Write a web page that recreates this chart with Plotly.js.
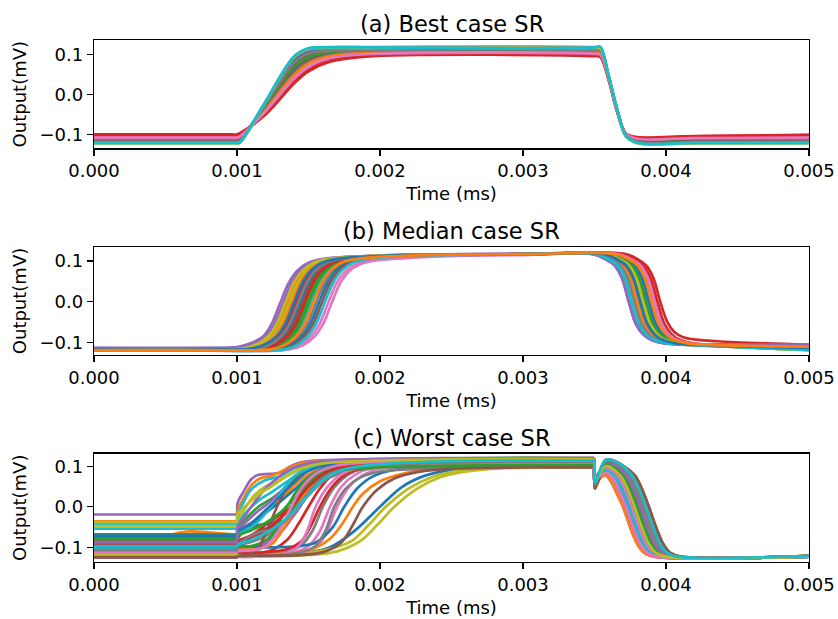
<!DOCTYPE html>
<html><head><meta charset="utf-8">
<script src="https://cdn.plot.ly/plotly-3.0.1.min.js"></script>
<style>html,body{margin:0;padding:0;background:#fff}#chart{width:838px;height:619px}</style>
</head><body><div id="chart"></div>
<script>
// Matplotlib tab10 colour cycle
const palette = ['#1f77b4','#ff7f0e','#2ca02c','#d62728','#9467bd','#8c564b','#e377c2','#7f7f7f','#bcbd22','#17becf'];
const TIME_UNIT = 1e-4; // time values below are stored in units of 0.0001

const panelTitles = ['(a) Best case SR', '(b) Median case SR', '(c) Worst case SR'];
const xTicks = [0, 0.001, 0.002, 0.003, 0.004, 0.005];
const yTicks = [-0.1, 0, 0.1];

// ---- (a) Best case: shared time grid, one row of outputs per run ----
const timeA = [0, 9.6, 10, 10.2, 12, 14, 15, 16.5, 19, 35, 35.4, 36, 36.6, 37.2, 38, 42, 50];
const seriesA = [
 [-0.115,-0.115,-0.115,-0.113,-0.030,0.065,0.090,0.105,0.110,0.110,0.109,0.040,-0.042,-0.100,-0.115,-0.115,-0.115],
 [-0.118,-0.118,-0.118,-0.117,-0.020,0.090,0.110,0.116,0.117,0.117,0.116,0.044,-0.040,-0.103,-0.118,-0.118,-0.118],
 [-0.117,-0.117,-0.117,-0.116,-0.022,0.085,0.106,0.113,0.114,0.114,0.113,0.043,-0.041,-0.102,-0.117,-0.117,-0.117],
 [-0.100,-0.100,-0.100,-0.097,-0.050,0.028,0.058,0.082,0.095,0.096,0.094,0.035,-0.045,-0.098,-0.107,-0.104,-0.101],
 [-0.112,-0.112,-0.112,-0.110,-0.026,0.075,0.098,0.109,0.112,0.112,0.111,0.042,-0.041,-0.100,-0.113,-0.113,-0.113],
 [-0.113,-0.113,-0.113,-0.111,-0.032,0.060,0.086,0.102,0.108,0.108,0.107,0.040,-0.042,-0.100,-0.114,-0.114,-0.114],
 [-0.105,-0.105,-0.105,-0.102,-0.045,0.035,0.065,0.088,0.099,0.100,0.098,0.037,-0.046,-0.099,-0.110,-0.107,-0.105],
 [-0.114,-0.114,-0.114,-0.112,-0.036,0.052,0.080,0.098,0.105,0.105,0.104,0.039,-0.043,-0.100,-0.115,-0.115,-0.115],
 [-0.121,-0.121,-0.121,-0.120,-0.019,0.093,0.113,0.116,0.116,0.116,0.115,0.044,-0.040,-0.104,-0.121,-0.121,-0.121],
 [-0.122,-0.122,-0.122,-0.121,-0.018,0.095,0.115,0.119,0.119,0.119,0.118,0.045,-0.040,-0.105,-0.122,-0.122,-0.122],
 [-0.119,-0.119,-0.119,-0.118,-0.021,0.088,0.108,0.114,0.115,0.115,0.114,0.043,-0.040,-0.103,-0.119,-0.119,-0.119],
 [-0.110,-0.110,-0.110,-0.108,-0.038,0.048,0.077,0.096,0.104,0.104,0.103,0.039,-0.043,-0.100,-0.113,-0.112,-0.111],
 [-0.116,-0.116,-0.116,-0.114,-0.028,0.070,0.094,0.107,0.111,0.111,0.110,0.041,-0.041,-0.101,-0.116,-0.116,-0.116],
 [-0.102,-0.102,-0.102,-0.099,-0.047,0.031,0.061,0.085,0.097,0.098,0.096,0.036,-0.045,-0.098,-0.108,-0.105,-0.102],
 [-0.120,-0.120,-0.120,-0.119,-0.019,0.092,0.112,0.117,0.118,0.118,0.117,0.044,-0.040,-0.104,-0.120,-0.120,-0.120],
 [-0.117,-0.117,-0.117,-0.115,-0.025,0.078,0.101,0.111,0.113,0.113,0.112,0.042,-0.041,-0.102,-0.117,-0.117,-0.117],
 [-0.108,-0.108,-0.108,-0.105,-0.042,0.040,0.070,0.091,0.101,0.102,0.100,0.038,-0.044,-0.099,-0.111,-0.109,-0.108],
 [-0.119,-0.119,-0.119,-0.117,-0.024,0.080,0.103,0.110,0.112,0.112,0.111,0.042,-0.041,-0.102,-0.119,-0.119,-0.119],
 [-0.122,-0.122,-0.122,-0.121,-0.018,0.094,0.114,0.117,0.117,0.117,0.116,0.045,-0.040,-0.104,-0.122,-0.122,-0.122],
 [-0.121,-0.121,-0.121,-0.120,-0.017,0.096,0.116,0.118,0.118,0.118,0.120,0.046,-0.039,-0.104,-0.121,-0.121,-0.121]
];

// ---- (b) Median case: each run = its own start/rise knots + one of the shared fall knot sets ----
const risesB = [
 [[0,-0.118],[8,-0.118],[11.4,-0.116],[12.4,-0.106],[13.2,-0.086],[13.8,-0.056],[14.4,-0.005],[15.0,0.045],[15.6,0.076],[16.4,0.096],[17.4,0.105],[19.4,0.111],[22.4,0.115],[30,0.117]],
 [[0,-0.117],[8,-0.117],[10.5,-0.115],[11.5,-0.105],[12.3,-0.086],[12.9,-0.056],[13.5,-0.005],[14.1,0.045],[14.7,0.076],[15.5,0.096],[16.5,0.105],[18.5,0.111],[21.5,0.115],[30,0.117]],
 [[0,-0.118],[8,-0.118],[11.85,-0.116],[12.85,-0.106],[13.65,-0.086],[14.25,-0.056],[14.85,-0.005],[15.45,0.045],[16.05,0.076],[16.85,0.096],[17.85,0.105],[19.85,0.111],[22.85,0.115],[30,0.117]],
 [[0,-0.116],[8,-0.116],[11.1,-0.114],[12.1,-0.104],[12.9,-0.086],[13.5,-0.056],[14.1,-0.005],[14.7,0.045],[15.3,0.076],[16.1,0.096],[17.1,0.105],[19.1,0.111],[22.1,0.115],[30,0.117]],
 [[0,-0.113],[8,-0.113],[10.0,-0.111],[11.0,-0.101],[11.8,-0.086],[12.4,-0.056],[13.0,-0.005],[13.6,0.045],[14.2,0.076],[15.0,0.096],[16.0,0.105],[18.0,0.111],[21.0,0.115],[30,0.118]],
 [[0,-0.118],[8,-0.118],[11.55,-0.116],[12.55,-0.106],[13.35,-0.086],[13.95,-0.056],[14.55,-0.005],[15.15,0.045],[15.75,0.076],[16.55,0.096],[17.55,0.105],[19.55,0.111],[22.55,0.115],[30,0.117]],
 [[0,-0.119],[8,-0.119],[13.6,-0.117],[14.6,-0.107],[15.4,-0.086],[16.0,-0.056],[16.6,-0.005],[17.2,0.045],[17.8,0.074],[18.6,0.092],[19.6,0.101],[21.6,0.107],[24.6,0.112],[30,0.115]],
 [[0,-0.118],[8,-0.118],[12.5,-0.116],[13.5,-0.106],[14.3,-0.086],[14.9,-0.056],[15.5,-0.005],[16.1,0.045],[16.7,0.076],[17.5,0.096],[18.5,0.105],[20.5,0.111],[23.5,0.115],[30,0.117]],
 [[0,-0.117],[8,-0.117],[10.65,-0.115],[11.65,-0.105],[12.45,-0.086],[13.05,-0.056],[13.65,-0.005],[14.25,0.045],[14.85,0.076],[15.65,0.096],[16.65,0.105],[18.65,0.111],[21.65,0.115],[30,0.117]],
 [[0,-0.120],[8,-0.120],[12.15,-0.118],[13.15,-0.108],[13.95,-0.086],[14.55,-0.056],[15.15,-0.005],[15.75,0.045],[16.35,0.076],[17.15,0.096],[18.15,0.105],[20.15,0.111],[23.15,0.115],[30,0.117]],
 [[0,-0.119],[8,-0.119],[12.7,-0.117],[13.7,-0.107],[14.5,-0.086],[15.1,-0.056],[15.7,-0.005],[16.3,0.045],[16.9,0.076],[17.7,0.096],[18.7,0.105],[20.7,0.111],[23.7,0.115],[30,0.117]],
 [[0,-0.118],[8,-0.118],[10.8,-0.116],[11.8,-0.106],[12.6,-0.086],[13.2,-0.056],[13.8,-0.005],[14.4,0.045],[15.0,0.076],[15.8,0.096],[16.8,0.105],[18.8,0.111],[21.8,0.115],[30,0.117]],
 [[0,-0.118],[8,-0.118],[12.0,-0.116],[13.0,-0.106],[13.8,-0.086],[14.4,-0.056],[15.0,-0.005],[15.6,0.045],[16.2,0.076],[17.0,0.096],[18.0,0.105],[20.0,0.111],[23.0,0.115],[30,0.117]],
 [[0,-0.118],[8,-0.118],[11.7,-0.116],[12.7,-0.106],[13.5,-0.086],[14.1,-0.056],[14.7,-0.005],[15.3,0.045],[15.9,0.076],[16.7,0.096],[17.7,0.105],[19.7,0.111],[22.7,0.115],[30,0.117]],
 [[0,-0.114],[8,-0.114],[10.2,-0.112],[11.2,-0.102],[12.0,-0.086],[12.6,-0.056],[13.2,-0.005],[13.8,0.045],[14.4,0.076],[15.2,0.096],[16.2,0.105],[18.2,0.111],[21.2,0.115],[30,0.118]],
 [[0,-0.119],[8,-0.119],[12.9,-0.117],[13.9,-0.107],[14.7,-0.086],[15.3,-0.056],[15.9,-0.005],[16.5,0.045],[17.1,0.076],[17.9,0.096],[18.9,0.105],[20.9,0.111],[23.9,0.115],[30,0.117]],
 [[0,-0.120],[8,-0.120],[13.35,-0.118],[14.35,-0.108],[15.15,-0.086],[15.75,-0.056],[16.35,-0.005],[16.95,0.045],[17.55,0.074],[18.35,0.093],[19.35,0.102],[21.35,0.108],[24.35,0.113],[30,0.116]],
 [[0,-0.118],[8,-0.118],[11.25,-0.116],[12.25,-0.106],[13.05,-0.086],[13.65,-0.056],[14.25,-0.005],[14.85,0.045],[15.45,0.076],[16.25,0.096],[17.25,0.105],[19.25,0.111],[22.25,0.115],[30,0.117]],
 [[0,-0.117],[8,-0.117],[10.35,-0.115],[11.35,-0.105],[12.15,-0.086],[12.75,-0.056],[13.35,-0.005],[13.95,0.045],[14.55,0.076],[15.35,0.096],[16.35,0.105],[18.35,0.111],[21.35,0.115],[30,0.117]],
 [[0,-0.120],[8,-0.120],[13.1,-0.118],[14.1,-0.108],[14.9,-0.086],[15.5,-0.056],[16.1,-0.005],[16.7,0.045],[17.3,0.076],[18.1,0.096],[19.1,0.105],[21.1,0.111],[24.1,0.115],[30,0.117]],
 [[0,-0.117],[8,-0.117],[10.95,-0.115],[11.95,-0.105],[12.75,-0.086],[13.35,-0.056],[13.95,-0.005],[14.55,0.045],[15.15,0.076],[15.95,0.096],[16.95,0.105],[18.95,0.111],[21.95,0.115],[30,0.117]],
 [[0,-0.119],[8,-0.119],[12.3,-0.117],[13.3,-0.107],[14.1,-0.086],[14.7,-0.056],[15.3,-0.005],[15.9,0.045],[16.5,0.076],[17.3,0.096],[18.3,0.105],[20.3,0.111],[23.3,0.115],[30,0.117]]
];
const fallsB = [
 [[34.9,0.117],[35.8,0.104],[36.4,0.090],[36.9,0.060],[37.4,0.0],[37.9,-0.055],[38.4,-0.080],[39.0,-0.094],[39.9,-0.102],[41.4,-0.104],[50,-0.106]],
 [[35.1,0.117],[36.0,0.104],[36.6,0.090],[37.1,0.060],[37.6,0.0],[38.1,-0.055],[38.6,-0.080],[39.2,-0.094],[40.1,-0.102],[41.6,-0.106],[50,-0.118]],
 [[35.3,0.117],[36.2,0.104],[36.8,0.090],[37.3,0.060],[37.8,0.0],[38.3,-0.055],[38.8,-0.080],[39.4,-0.094],[40.3,-0.102],[41.8,-0.106],[50,-0.115]],
 [[35.5,0.117],[36.4,0.104],[37.0,0.090],[37.5,0.060],[38.0,0.0],[38.5,-0.055],[39.0,-0.080],[39.6,-0.094],[40.5,-0.102],[42.0,-0.106],[50,-0.117]],
 [[35.7,0.117],[36.6,0.104],[37.2,0.090],[37.7,0.060],[38.2,0.0],[38.7,-0.055],[39.2,-0.080],[39.8,-0.094],[40.7,-0.102],[42.2,-0.106],[50,-0.113]],
 [[35.9,0.117],[36.8,0.104],[37.4,0.090],[37.9,0.060],[38.4,0.0],[38.9,-0.055],[39.4,-0.080],[40.0,-0.094],[40.9,-0.102],[42.4,-0.106],[50,-0.119]],
 [[36.1,0.117],[37.0,0.104],[37.6,0.090],[38.1,0.060],[38.6,0.0],[39.1,-0.055],[39.6,-0.080],[40.2,-0.094],[41.1,-0.102],[42.6,-0.106],[50,-0.112]],
 [[36.3,0.117],[37.2,0.104],[37.8,0.090],[38.3,0.060],[38.8,0.0],[39.3,-0.055],[39.8,-0.080],[40.4,-0.094],[41.3,-0.102],[42.8,-0.106],[50,-0.116]],
 [[36.5,0.117],[37.4,0.104],[38.0,0.090],[38.5,0.060],[39.0,0.0],[39.5,-0.055],[40.0,-0.080],[40.6,-0.094],[41.5,-0.102],[43.0,-0.106],[50,-0.110]],
 [[36.7,0.117],[37.6,0.104],[38.2,0.090],[38.7,0.060],[39.2,0.0],[39.7,-0.055],[40.2,-0.080],[40.8,-0.094],[41.7,-0.102],[43.2,-0.106],[50,-0.114]],
 [[36.9,0.117],[37.8,0.104],[38.4,0.090],[38.9,0.060],[39.4,0.0],[39.9,-0.055],[40.4,-0.080],[41.0,-0.094],[41.9,-0.102],[43.4,-0.106],[50,-0.111]],
 [[37.1,0.118],[38.0,0.105],[38.6,0.090],[39.1,0.060],[39.6,0.0],[40.1,-0.050],[40.6,-0.075],[41.2,-0.087],[42.1,-0.093],[43.6,-0.097],[50,-0.106]]
];
const fallOfB = [3,1,5,11,0,6,8,7,2,9,7,3,6,10,0,4,9,2,5,1,4,8];

// ---- (c) Worst case: each run = its own start/rise knots + one of the shared end (notch + fall) knot sets ----
const headsC = [
 [[0,-0.116],[9.9,-0.116],[9.98,-0.116],[10.05,-0.119],[13,-0.117],[15,-0.112],[16.5,-0.100],[18.2,-0.060],[20.0,0.0],[21.5,0.048],[23,0.075],[24.7,0.090],[27,0.100],[31,0.107]],
 [[0,-0.095],[3,-0.094],[4.5,-0.085],[5.5,-0.068],[6.5,-0.061],[8,-0.063],[9.9,-0.069],[9.98,-0.069],[10.05,-0.058],[11,-0.040],[12,-0.015],[13,0.015],[14,0.052],[15,0.080],[16.5,0.098],[19,0.107],[24,0.112]],
 [[0,-0.068],[9.9,-0.068],[9.98,-0.068],[10.05,-0.052],[10.6,-0.030],[11.5,0.000],[12.5,0.022],[13.5,0.050],[14.5,0.080],[15.5,0.098],[17.5,0.109],[22,0.114],[28,0.116]],
 [[0,-0.120],[9.9,-0.120],[9.98,-0.120],[10.05,-0.117],[11.5,-0.115],[12.5,-0.106],[13.5,-0.082],[14.3,-0.042],[15.0,0.0],[15.8,0.045],[16.7,0.079],[18,0.099],[20.5,0.110],[25,0.116],[30,0.120]],
 [[0,-0.019],[9.9,-0.019],[9.98,-0.019],[10.05,0.010],[10.5,0.040],[11.0,0.068],[11.5,0.079],[12.3,0.081],[13.0,0.084],[13.6,0.097],[14.3,0.108],[15.5,0.114],[18,0.117],[25,0.119]],
 [[0,-0.122],[9.9,-0.122],[9.98,-0.122],[10.05,-0.110],[10.8,-0.080],[11.6,-0.058],[12.5,-0.050],[13.3,-0.035],[14.2,0.000],[15.0,0.040],[16,0.075],[17.5,0.095],[20,0.103],[26,0.108]],
 [[0,-0.118],[9.9,-0.118],[9.98,-0.118],[10.05,-0.121],[12.5,-0.119],[14,-0.112],[15,-0.097],[15.8,-0.060],[16.5,0.0],[17.3,0.050],[18.3,0.080],[19.5,0.097],[22,0.106],[27,0.112]],
 [[0,-0.100],[9.9,-0.100],[9.98,-0.100],[10.05,-0.096],[11,-0.087],[12,-0.072],[13,-0.048],[14,-0.012],[15,0.028],[16,0.062],[17,0.080],[19,0.093],[25,0.102]],
 [[0,-0.117],[9.9,-0.117],[9.98,-0.117],[10.05,-0.120],[14,-0.118],[16.5,-0.104],[18,-0.085],[19.2,-0.045],[20.4,0.0],[22,0.045],[23.7,0.074],[25.5,0.089],[27.5,0.097],[31,0.097]],
 [[0,-0.054],[9.9,-0.054],[9.98,-0.054],[10.05,-0.040],[10.6,-0.015],[11.5,0.015],[12.5,0.038],[13.5,0.062],[14.5,0.087],[16,0.104],[19,0.114],[26,0.119]],
 [[0,-0.075],[9.9,-0.075],[9.98,-0.075],[10.05,-0.068],[11,-0.045],[12,-0.015],[13,0.012],[14,0.042],[15,0.073],[16,0.093],[18,0.106],[23,0.113],[29,0.116]],
 [[0,-0.036],[9.9,-0.036],[9.98,-0.036],[10.05,-0.010],[10.5,0.024],[11,0.053],[11.6,0.070],[12.5,0.077],[13.5,0.094],[14.5,0.107],[16,0.113],[22,0.117]],
 [[0,-0.120],[9.9,-0.120],[9.98,-0.120],[10.05,-0.117],[11,-0.113],[12,-0.095],[12.8,-0.050],[13.5,0.0],[14.3,0.045],[15.2,0.077],[16.5,0.095],[19,0.104],[25,0.108]],
 [[0,-0.085],[9.9,-0.085],[9.98,-0.085],[10.05,-0.084],[11,-0.070],[12,-0.045],[13,-0.020],[14,0.002],[15,0.035],[16,0.068],[17,0.088],[19,0.101],[24,0.108],[30,0.110]],
 [[0,-0.110],[9.9,-0.110],[9.98,-0.110],[10.05,-0.104],[11,-0.100],[12,-0.090],[13,-0.065],[13.8,-0.030],[14.5,0.005],[15.3,0.050],[16.2,0.083],[17.5,0.103],[20,0.113],[26,0.119]],
 [[0,-0.090],[9.9,-0.090],[9.98,-0.090],[10.05,-0.078],[10.6,-0.058],[11.5,-0.045],[12.5,-0.040],[13.5,-0.012],[14.5,0.038],[15.5,0.074],[17,0.097],[20,0.109],[27,0.116]],
 [[0,-0.125],[9.9,-0.125],[9.98,-0.125],[10.05,-0.122],[13,-0.121],[14.5,-0.115],[15.6,-0.097],[16.3,-0.060],[17.0,0.0],[17.8,0.048],[18.8,0.078],[20,0.094],[23,0.106],[28,0.112]],
 [[0,-0.115],[9.9,-0.115],[9.98,-0.115],[10.05,-0.118],[12,-0.117],[13.5,-0.110],[14.5,-0.095],[15.3,-0.058],[16.0,0.0],[16.8,0.048],[17.8,0.080],[19,0.098],[22,0.110],[28,0.117]],
 [[0,-0.049],[9.9,-0.049],[9.98,-0.049],[10.05,-0.032],[10.6,-0.002],[11.2,0.028],[12,0.050],[13,0.066],[14,0.086],[15,0.100],[17,0.109],[22,0.114]],
 [[0,-0.042],[9.9,-0.042],[9.98,-0.042],[10.05,-0.020],[10.5,0.014],[11,0.043],[12,0.066],[13,0.075],[14,0.095],[15,0.104],[18,0.108]],
 [[0,-0.100],[9.9,-0.100],[9.98,-0.100],[10.05,-0.098],[12,-0.100],[14,-0.098],[15.5,-0.088],[16.7,-0.050],[17.5,0.0],[18.4,0.045],[19.5,0.075],[21,0.091],[24,0.099],[29,0.102]],
 [[0,-0.120],[9.9,-0.120],[9.98,-0.120],[10.05,-0.117],[13,-0.116],[15,-0.108],[16.5,-0.079],[17.4,-0.040],[18.1,0.0],[18.8,0.032],[20,0.063],[21.5,0.081],[23.5,0.093],[27,0.104],[32,0.112]],
 [[0,-0.105],[9.9,-0.105],[9.98,-0.105],[10.05,-0.100],[11,-0.097],[12,-0.083],[13.2,-0.040],[14.0,0.0],[14.8,0.045],[15.7,0.079],[17,0.099],[20,0.112],[27,0.120]],
 [[0,-0.110],[9.9,-0.110],[9.98,-0.110],[10.05,-0.113],[12,-0.112],[13.5,-0.104],[14.5,-0.085],[15.2,-0.045],[15.8,0.0],[16.6,0.047],[17.6,0.080],[19,0.097],[23,0.106],[29,0.110]],
 [[0,-0.080],[9.9,-0.080],[9.98,-0.080],[10.05,-0.060],[10.7,-0.035],[11.5,-0.010],[12.3,0.012],[13.0,0.035],[13.8,0.065],[14.8,0.090],[16.5,0.106],[20,0.113],[26,0.116]],
 [[0,-0.125],[9.9,-0.125],[9.98,-0.125],[10.05,-0.122],[10.8,-0.118],[11.5,-0.100],[12.2,-0.050],[12.8,0.0],[13.5,0.048],[14.4,0.082],[15.5,0.100],[18,0.112],[24,0.119]],
 [[0,-0.120],[9.9,-0.120],[9.98,-0.120],[10.05,-0.123],[12,-0.121],[13.5,-0.114],[14.3,-0.097],[14.9,-0.060],[15.5,0.0],[16.3,0.048],[17.3,0.080],[18.5,0.096],[21,0.104],[27,0.108]],
 [[0,-0.118],[9.9,-0.118],[9.98,-0.118],[10.05,-0.120],[13,-0.119],[14.5,-0.112],[15.5,-0.096],[16.2,-0.058],[16.8,0.0],[17.6,0.045],[18.6,0.072],[20,0.087],[23,0.094],[28,0.097]],
 [[0,-0.119],[9.9,-0.119],[9.98,-0.119],[10.05,-0.121],[15,-0.119],[17,-0.110],[18.6,-0.085],[19.8,-0.045],[21.0,0.0],[22.6,0.045],[24.3,0.074],[26.2,0.088],[28.5,0.095],[32,0.097]],
 [[0,-0.103],[9.9,-0.103],[9.98,-0.103],[10.05,-0.070],[10.5,-0.060],[11.2,-0.045],[11.9,-0.020],[12.5,0.005],[13.3,0.045],[14.2,0.080],[15.5,0.100],[18,0.112],[24,0.119]],
 [[0,-0.071],[9.9,-0.071],[9.98,-0.071],[10.05,-0.062],[11,-0.040],[12,-0.008],[13,0.025],[14,0.060],[15,0.088],[16.5,0.104],[20,0.113],[26,0.117]],
 [[0,-0.112],[9.9,-0.112],[9.98,-0.112],[10.05,-0.108],[11.5,-0.104],[12.5,-0.090],[13.4,-0.045],[14.2,0.0],[15,0.045],[16,0.078],[17.5,0.097],[21,0.106],[28,0.110]],
 [[0,-0.080],[9.9,-0.080],[9.98,-0.080],[10.05,-0.072],[11,-0.058],[12,-0.040],[13,-0.015],[14,0.020],[15,0.052],[16,0.075],[17.5,0.091],[21,0.099],[27,0.102]],
 [[0,-0.093],[9.9,-0.093],[9.98,-0.093],[10.05,-0.085],[11,-0.075],[12,-0.058],[13,-0.030],[14,0.008],[15,0.050],[16,0.080],[17.5,0.099],[21,0.109],[28,0.114]],
 [[0,-0.088],[9.9,-0.088],[9.98,-0.088],[10.05,-0.050],[10.6,-0.020],[11.3,0.015],[12,0.045],[12.8,0.070],[13.6,0.090],[15,0.107],[18,0.116],[24,0.120]],
 [[0,-0.124],[9.9,-0.124],[9.98,-0.124],[10.05,-0.122],[14,-0.120],[16,-0.112],[17.3,-0.088],[18.1,-0.045],[18.8,0.0],[19.8,0.042],[21,0.070],[22.7,0.086],[25,0.094],[30,0.097]],
 [[0,-0.113],[9.9,-0.113],[9.98,-0.113],[10.05,-0.110],[11,-0.108],[12,-0.098],[13.0,-0.055],[13.8,0.0],[14.6,0.050],[15.6,0.084],[17,0.102],[20,0.111],[26,0.116]],
 [[0,-0.107],[9.9,-0.107],[9.98,-0.107],[10.05,-0.095],[10.8,-0.075],[11.6,-0.062],[12.5,-0.055],[13.5,-0.030],[14.5,0.012],[15.5,0.055],[16.5,0.082],[18.5,0.100],[23,0.107],[29,0.110]],
 [[0,-0.038],[9.9,-0.038],[9.98,-0.038],[10.05,-0.018],[10.7,0.005],[11.5,0.030],[12.4,0.050],[13.3,0.072],[14.3,0.092],[15.8,0.106],[19,0.113],[25,0.117]],
 [[0,-0.097],[9.9,-0.097],[9.98,-0.097],[10.05,-0.094],[11,-0.082],[12,-0.065],[13,-0.042],[14,-0.010],[15,0.030],[16,0.065],[17.3,0.090],[20,0.105],[27,0.114]]
];
const tailsC = [
 [[34.85,0.112],[34.95,0.112],[35.02,0.064],[35.25,0.067],[35.75,0.078],[36.2,0.060],[36.5,0.038],[37.0,0.0],[37.5,-0.050],[38.0,-0.092],[38.5,-0.114],[39.2,-0.123],[50,-0.123]],
 [[34.85,0.116],[34.95,0.116],[35.02,0.067],[35.25,0.071],[35.8,0.084],[36.3,0.070],[36.7,0.042],[37.2,0.0],[37.7,-0.050],[38.2,-0.092],[38.7,-0.114],[39.4,-0.123],[50,-0.123]],
 [[34.85,0.119],[34.95,0.119],[35.02,0.071],[35.25,0.075],[35.8,0.090],[36.4,0.075],[36.9,0.044],[37.4,0.0],[37.9,-0.050],[38.4,-0.092],[38.9,-0.114],[39.6,-0.123],[50,-0.123]],
 [[34.85,0.108],[34.95,0.108],[35.02,0.058],[35.25,0.066],[35.8,0.094],[36.6,0.077],[37.1,0.045],[37.6,0.0],[38.1,-0.050],[38.6,-0.092],[39.1,-0.114],[39.8,-0.123],[50,-0.123]],
 [[34.85,0.117],[34.95,0.117],[35.02,0.066],[35.25,0.074],[35.8,0.100],[36.8,0.077],[37.3,0.045],[37.8,0.0],[38.3,-0.050],[38.8,-0.092],[39.3,-0.114],[40.0,-0.123],[50,-0.123]],
 [[34.85,0.102],[34.95,0.102],[35.02,0.050],[35.25,0.062],[35.8,0.102],[36.4,0.098],[37.0,0.078],[37.5,0.045],[38.0,0.0],[38.5,-0.050],[39.0,-0.092],[39.5,-0.114],[40.2,-0.123],[50,-0.123]],
 [[34.85,0.120],[34.95,0.120],[35.02,0.068],[35.25,0.080],[35.8,0.108],[36.5,0.102],[37.2,0.078],[37.7,0.045],[38.2,0.0],[38.7,-0.050],[39.2,-0.092],[39.7,-0.114],[40.4,-0.123],[50,-0.122]],
 [[34.85,0.110],[34.95,0.110],[35.02,0.054],[35.25,0.070],[35.8,0.112],[36.6,0.105],[37.4,0.078],[37.9,0.045],[38.4,0.0],[38.9,-0.050],[39.4,-0.092],[39.9,-0.114],[40.6,-0.123],[50,-0.122]],
 [[34.85,0.114],[34.95,0.114],[35.02,0.060],[35.25,0.076],[35.8,0.116],[36.7,0.108],[37.6,0.078],[38.1,0.045],[38.6,0.0],[39.1,-0.050],[39.6,-0.092],[40.1,-0.114],[40.8,-0.123],[50,-0.121]],
 [[34.85,0.097],[34.95,0.097],[35.02,0.045],[35.25,0.064],[35.8,0.110],[36.8,0.104],[37.8,0.078],[38.3,0.045],[38.8,0.0],[39.3,-0.050],[39.8,-0.092],[40.3,-0.114],[41.0,-0.123],[50,-0.121]]
];
const tailOfC = [3,0,1,6,2,3,0,5,9,2,1,4,3,7,2,1,0,4,8,3,5,0,6,7,1,2,3,9,9,2,4,7,5,8,6,9,1,7,4,8];

const yRanges = [[-0.135, 0.1367], [-0.1312, 0.1352], [-0.1363, 0.1314]];
const yDomains = [[0.79241, 1.0], [0.39621, 0.60380], [0.0, 0.20778]];

const FONT = 'DejaVu Sans, Liberation Sans, sans-serif';
const traces = [];
function addLine(tUnits, y, idx, panel) {
  const s = panel === 0 ? '' : String(panel + 1);
  traces.push({
    type: 'scatter', mode: 'lines',
    x: tUnits.map(v => v * TIME_UNIT), y: y,
    xaxis: 'x' + s, yaxis: 'y' + s,
    line: {color: palette[idx % 10], width: 2.7, shape: 'spline', smoothing: 1},
    hoverinfo: 'skip', showlegend: false
  });
}
function addKnots(knots, idx, panel) {
  addLine(knots.map(k => k[0]), knots.map(k => k[1]), idx, panel);
}
seriesA.forEach((row, i) => addLine(timeA, row, i, 0));
risesB.forEach((rise, i) => addKnots(rise.concat(fallsB[fallOfB[i]]), i, 1));
headsC.forEach((head, i) => addKnots(head.concat(tailsC[tailOfC[i]]), i, 2));

const layout = {
  width: 838, height: 619,
  margin: {l: 94, r: 29, t: 40, b: 57},
  paper_bgcolor: '#fff', plot_bgcolor: '#fff',
  showlegend: false,
  font: {family: FONT, size: 18, color: '#000'},
  annotations: []
};
for (let p = 0; p < 3; p++) {
  const s = p === 0 ? '' : String(p + 1);
  layout['xaxis' + s] = {
    domain: [0, 1], anchor: 'y' + s, range: [0, 0.005],
    tickmode: 'array', tickvals: xTicks, tickformat: '.3f',
    ticks: 'outside', ticklen: 6, tickwidth: 1.3, tickcolor: '#000',
    showline: true, linecolor: '#000', linewidth: 1.3, mirror: true,
    showgrid: false, zeroline: false, automargin: false,
    tickfont: {family: FONT, size: 18, color: '#000'},
    title: {text: 'Time (ms)', font: {family: FONT, size: 18, color: '#000'}, standoff: 7}
  };
  layout['yaxis' + s] = {
    domain: yDomains[p], anchor: 'x' + s, range: yRanges[p],
    tickmode: 'array', tickvals: yTicks, tickformat: '.1f',
    ticks: 'outside', ticklen: 6, tickwidth: 1.3, tickcolor: '#000',
    showline: true, linecolor: '#000', linewidth: 1.3, mirror: true,
    showgrid: false, zeroline: false, automargin: false,
    tickfont: {family: FONT, size: 18, color: '#000'},
    title: {text: 'Output(mV)', font: {family: FONT, size: 18, color: '#000'}, standoff: 8}
  };
  layout.annotations.push({
    text: panelTitles[p], xref: 'paper', yref: 'paper', x: 0.5,
    y: yDomains[p][1] + 15.8 / 521.7, xanchor: 'center', yanchor: 'middle',
    showarrow: false, font: {family: FONT, size: 22.5, color: '#000'}
  });
}

Plotly.newPlot('chart', traces, layout, {staticPlot: true, displayModeBar: false});
</script>
</body></html>
